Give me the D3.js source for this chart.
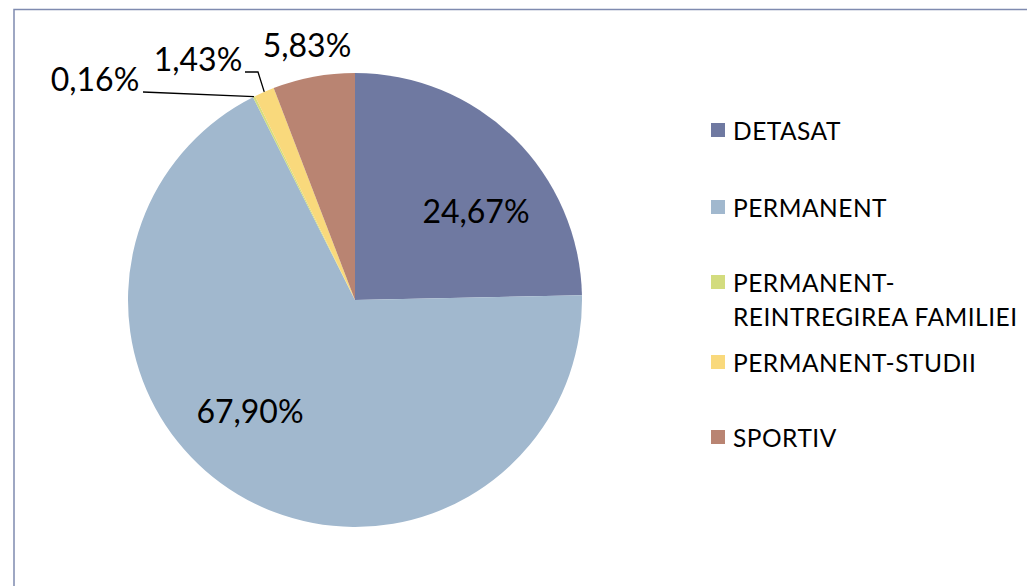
<!DOCTYPE html>
<html><head><meta charset="utf-8">
<script src="https://cdn.jsdelivr.net/npm/d3@7"></script>
<style>body{margin:0;background:#fff}svg{display:block}text{font-family:Lato,"Open Sans",sans-serif;fill:#000}</style>
</head><body>
<svg id="c" width="1027" height="586"></svg>
<script>
const categories = ["DETASAT","PERMANENT","PERMANENT-REINTREGIREA FAMILIEI","PERMANENT-STUDII","SPORTIV"];
const values = [24.67, 67.90, 0.16, 1.43, 5.83];
const labels = ["24,67%","67,90%","0,16%","1,43%","5,83%"];
const colors = ["#6F79A1","#A1B8CE","#D3DC7E","#F9D97C","#B98472"];

const svg = d3.select("#c");
// frame
svg.append("rect").attr("x",14).attr("y",9.5).attr("width",1030).attr("height",600)
  .attr("fill","none").attr("stroke","#7F8BB0").attr("stroke-width",1.5);

const cx = 355, cy = 300, R = 227;
const g = svg.append("g").attr("transform",`translate(${cx},${cy})`);
const data = categories.map((c,i)=>({cat:c,value:values[i],label:labels[i],color:colors[i]}));
const pie = d3.pie().sort(null).value(d=>d.value);
const arcs = pie(data);
const arc = d3.arc().innerRadius(0).outerRadius(R);
g.selectAll("path.s").data(arcs).join("path").attr("class","s")
  .attr("d",arc).attr("fill",d=>d.data.color);

// label layout (position relative to center)
const labelPos = [[121,-90],[-105,110],[-260,-222],[-157,-242],[-48,-256]];
g.selectAll("text.l").data(arcs).join("text").attr("class","l")
  .attr("x",(d,i)=>labelPos[i][0]).attr("y",(d,i)=>labelPos[i][1])
  .attr("text-anchor","middle").attr("dominant-baseline","central")
  .attr("font-size",32).text(d=>d.data.label);

// leader lines for small slices
function edgePt(a){const ang=(a.startAngle+a.endAngle)/2;return [R*Math.sin(ang),-R*Math.cos(ang)];}
const p2 = edgePt(arcs[2]);
g.append("path").attr("fill","none").attr("stroke","#000").attr("stroke-width",1.3)
  .attr("d",`M${-212},${-208} L${p2[0]},${p2[1]}`);
const p3 = edgePt(arcs[3]);
g.append("path").attr("fill","none").attr("stroke","#000").attr("stroke-width",1.3)
  .attr("d",`M${-110},${-228} L${-97},${-228} L${p3[0]},${p3[1]}`);

// legend
const legY = [130,207,[282,316],362,437];
const lg = svg.append("g");
data.forEach((d,i)=>{
  const y0 = Array.isArray(legY[i]) ? legY[i][0] : legY[i];
  lg.append("rect").attr("x",711).attr("y",y0-7).attr("width",14).attr("height",14).attr("fill",d.color);
  const t = lg.append("text").attr("x",733).attr("font-size",24.5).attr("letter-spacing",0.5).attr("dominant-baseline","central");
  if (Array.isArray(legY[i])) {
    t.append("tspan").attr("x",733).attr("y",legY[i][0]).text("PERMANENT-");
    t.append("tspan").attr("x",733).attr("y",legY[i][1]).text("REINTREGIREA FAMILIEI");
  } else {
    t.attr("y",y0).text(d.cat);
  }
});
</script>
</body></html>
